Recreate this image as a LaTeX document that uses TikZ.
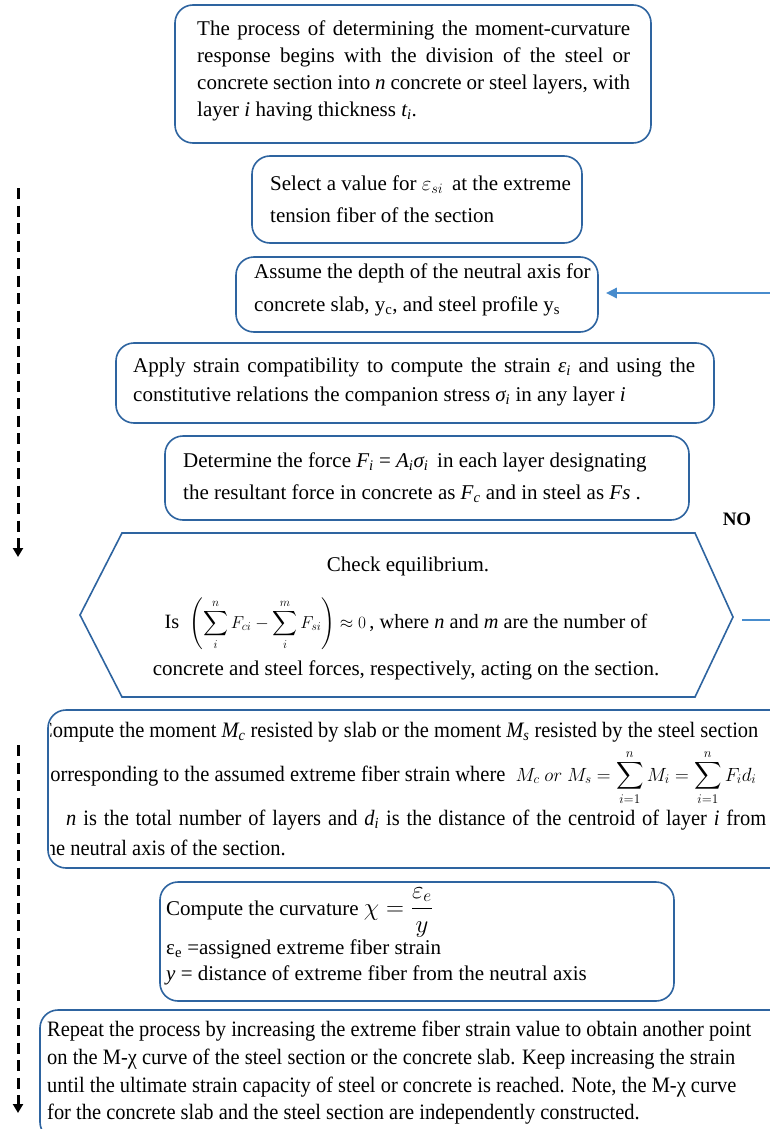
\documentclass[tikz,border=0pt]{standalone}
\usepackage{amsmath}
\usepackage{graphicx}
\usepackage{fontspec}
\setmainfont{Liberation Serif}
\newfontfamily\narrowfont[FakeStretch=0.93]{Liberation Serif}
\usetikzlibrary{arrows.meta}
\definecolor{boxblue}{RGB}{46,100,160}
\definecolor{arrowblue}{RGB}{72,140,205}
\newcommand{\jl}[2]{\makebox[#1][s]{#2}}
\begin{document}
\begin{tikzpicture}[x=1pt,y=-1pt,
  stepbox/.style={draw=boxblue, line width=1.6pt, rounded corners=18pt, inner sep=0pt},
  hexshape/.style={draw=boxblue, line width=1.6pt},
  txt/.style={inner sep=0pt, align=left, anchor=west, font=\fontsize{21}{27}\selectfont},
  ctxt/.style={inner sep=0pt, anchor=base, font=\fontsize{21}{25}\selectfont},
  ltxt/.style={inner sep=0pt, anchor=base west, font=\fontsize{21}{25}\selectfont},
  ntxt/.style={inner sep=0pt, anchor=base west, font=\narrowfont\fontsize{22}{25}\selectfont},
  dasharrow/.style={line width=3pt, dash pattern=on 11pt off 6.5pt, -{Triangle[length=9pt,width=10pt]}},
  fbarrow/.style={draw=arrowblue, line width=2.6pt}
]
\useasboundingbox (0,0) rectangle (769,1129);
\fill[white] (0,0) rectangle (769,1129);

% box 1
\node[stepbox, minimum width=476pt, minimum height=138pt] (b1) at (413,74) {};
\node[txt] (t1) at (197,70.5) {\jl{433pt}{The process of determining the moment-curvature}\\
\jl{433pt}{response begins with the division of the steel or}\\
\jl{433pt}{concrete section into \textit{n} concrete or steel layers, with}\\
layer \textit{i} having thickness \textit{t\textsubscript{i}}.};

% box 2
\node[stepbox, minimum width=330pt, minimum height=87pt] (b2) at (417,199.5) {};
\node[txt, font=\fontsize{21}{32}\selectfont] (t2) at (270,199) {Select a value for $\varepsilon_{si}$ \,at the extreme\\ tension fiber of the section};

% box 3
\node[stepbox, minimum width=362pt, minimum height=75pt] (b3) at (417,294.5) {};
\node[txt, font=\fontsize{21}{33}\selectfont] (t3) at (254,289.5) {Assume the depth of the neutral axis for\\ concrete slab, y\textsubscript{c}, and steel profile y\textsubscript{s}};

% box 4
\node[stepbox, minimum width=598pt, minimum height=80pt] (b4) at (415,383) {};
\node[txt, font=\fontsize{21}{29}\selectfont] (t4) at (133,381.5) {\jl{562pt}{Apply strain compatibility to compute the strain \textit{ε\textsubscript{i}} and using the}\\
constitutive relations the companion stress \textit{σ\textsubscript{i}} in any layer \textit{i}};

% box 5
\node[stepbox, minimum width=524pt, minimum height=84pt] (b5) at (427,478) {};
\node[txt, font=\fontsize{21}{32}\selectfont] (t5) at (183,478) {Determine the force \textit{F\textsubscript{i}} = \textit{A\textsubscript{i}σ\textsubscript{i}} \,in each layer designating\\
the resultant force in concrete as \textit{F\textsubscript{c}} and in steel as \textit{Fs} .};

% hexagon
\coordinate (hL) at (80,615);
\coordinate (hR) at (733,617);
\draw[hexshape] (hL) -- (122,533) -- (695,533) -- (hR) -- (695,697) -- (122,697) -- cycle;
\node[ctxt] (h1) at (408,571) {Check equilibrium.};
\node[ctxt, font=\fontsize{20.3}{25}\selectfont] (h2) at (406,628) {Is \ {\fontsize{18.5}{20}\selectfont$\displaystyle\left(\sum_{i}^{n} F_{ci} - \sum_{i}^{m} F_{si}\right) \approx 0$}\,, where \textit{n} and \textit{m} are the number of};
\node[ctxt] (h3) at (406,675) {concrete and steel forces, respectively, acting on the section.};

% box 7 (moment)
\draw[stepbox] (48,710) rectangle (800,868);
\begin{scope}
\clip (50,700) rectangle (780,880);
\node[ntxt] (m1) at (39,737) {Compute the moment \textit{M\textsubscript{c}} resisted by slab or the moment \textit{M\textsubscript{s}} resisted by the steel section};
\node[ntxt] (m2) at (41,781) {corresponding to the assumed extreme fiber strain where \ \scalebox{0.92}{$\displaystyle M_c\ or\ M_s = \sum_{i=1}^{n} M_i = \sum_{i=1}^{n} F_i d_i$}};
\node[ntxt] (m3) at (66,825) {\jl{700pt}{\textit{n} is the total number of layers and \textit{d\textsubscript{i}} is the distance of the centroid of layer \textit{i} from}};
\node[ntxt] (m4) at (40,855) {the neutral axis of the section.};
\end{scope}

% box 8 (curvature)
\node[stepbox, minimum width=514pt, minimum height=119pt] (b8) at (417,941.5) {};
\node[ltxt] (c1) at (166,915) {Compute the curvature {\fontsize{23}{25}\selectfont$\chi = \dfrac{\varepsilon_e}{y}$}};
\node[ltxt] (c2) at (166,954) {ε\textsubscript{e} =assigned extreme fiber strain};
\node[ltxt] (c3) at (166,980) {\textit{y} = distance of extreme fiber from the neutral axis};

% box 9 (repeat)
\draw[stepbox] (40,1010) rectangle (800,1140);
\node[ntxt] (r1) at (47,1036) {Repeat the process by increasing the extreme fiber strain value to obtain another point};
\node[ntxt] (r2) at (47,1064) {on the M-χ curve of the steel section or the concrete slab. Keep increasing the strain};
\node[ntxt] (r3) at (47,1092) {until the ultimate strain capacity of steel or concrete is reached. Note, the M-χ curve};
\node[ntxt] (r4) at (47,1119) {for the concrete slab and the steel section are independently constructed.};

% dashed arrows
\coordinate (d1s) at (18,188);
\coordinate (d1e) at (18,557);
\coordinate (d2s) at (18,745);
\coordinate (d2e) at (18,1113);
\draw[dasharrow] (d1s) -- (d1e);
\draw[dasharrow] (d2s) -- (d2e);

% feedback
\coordinate (fbin) at (775,293);
\coordinate (noout) at (775,620);
\coordinate (nostart) at (742,620);
\draw[fbarrow, -{Triangle[length=11pt,width=10pt]}] (fbin) -- ([xshift=7pt]b3.east |- fbin);
\draw[fbarrow] (nostart) -- (noout);
\node[inner sep=0pt, font=\bfseries\fontsize{19}{20}\selectfont] (no) at (737,519) {NO};
\end{tikzpicture}
\end{document}
